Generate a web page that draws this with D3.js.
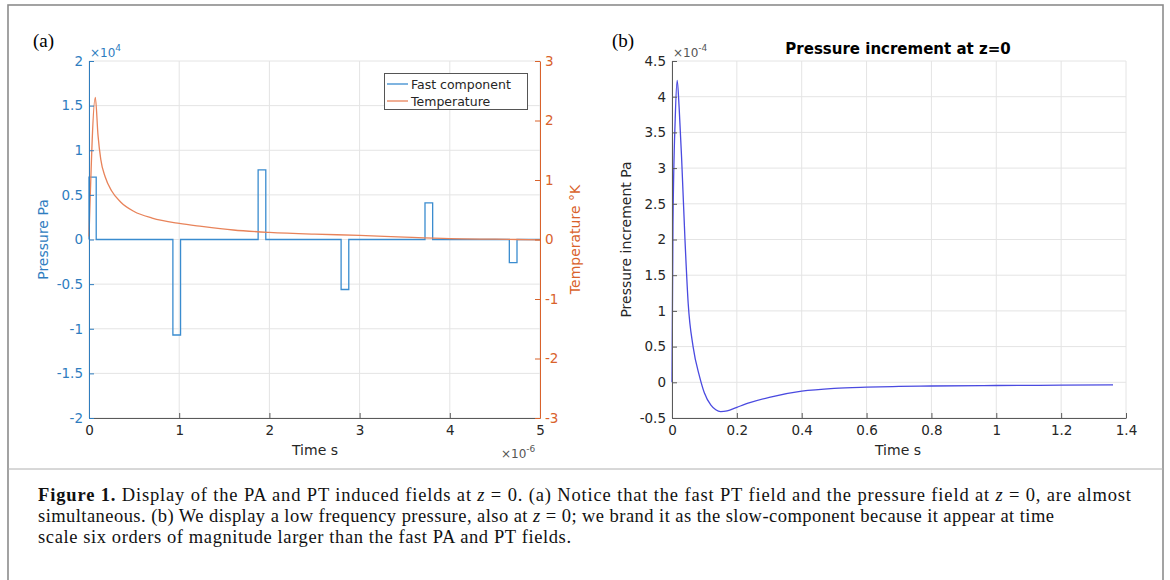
<!DOCTYPE html>
<meta charset="utf-8">
<script src="https://d3js.org/d3.v7.min.js"></script>
<style>
  body { margin: 0; background: #fff; }
  svg text { font-family: "DejaVu Sans", sans-serif; }
</style>
<div id="my_dataviz"></div>
<script>

// ---- panel (a): fast component, pressure in 1e4 Pa, time in 1e-6 s ----
const pulseStart = [0, 0.93, 1.875, 2.795, 3.725, 4.66];
const pulseEnd   = [0.08, 1.015, 1.96, 2.88, 3.81, 4.745];
const pulseValue = [0.70, -1.07, 0.78, -0.56, 0.41, -0.26];

// ---- panel (a): temperature, K ----
const tempTime  = [0, 0.07, 0.1, 0.13, 0.18, 0.25, 0.35, 0.5, 0.7, 1.0, 1.25, 1.6, 2.0, 2.5, 3.0, 3.5, 4.0, 4.5, 5.0];
const tempValue = [0.05, 2.39, 1.75, 1.35, 1.05, 0.82, 0.63, 0.47, 0.36, 0.27, 0.22, 0.16, 0.12, 0.09, 0.07, 0.04, 0.015, 0.005, -0.005];

// ---- panel (b): slow pressure increment, 1e-4 Pa, time in s ----
const slowTime  = [0, 0.003, 0.01, 0.016, 0.022, 0.03, 0.04, 0.05, 0.065, 0.085, 0.1, 0.12, 0.135, 0.15, 0.17, 0.2, 0.24, 0.3, 0.4, 0.5, 0.6, 0.7, 0.8, 1.0, 1.2, 1.36];
const slowValue = [0, 2.2, 3.7, 4.23, 3.85, 3.1, 2.0, 1.1, 0.5, 0.08, -0.15, -0.32, -0.385, -0.41, -0.40, -0.35, -0.285, -0.21, -0.125, -0.085, -0.068, -0.058, -0.052, -0.045, -0.04, -0.035];

// tick labels
const pressTicks = [-2, -1.5, -1, -0.5, 0, 0.5, 1, 1.5, 2];
const tempTicks  = [-3, -2, -1, 0, 1, 2, 3];
const timeTicksA = [0, 1, 2, 3, 4, 5];
const slowTicksY = [-0.5, 0, 0.5, 1, 1.5, 2, 2.5, 3, 3.5, 4, 4.5];
const slowTicksX = [0, 0.2, 0.4, 0.6, 0.8, 1, 1.2, 1.4];

const captionLines = [
    [["b", "Figure 1."], ["", " Display of the PA and PT induced fields at "], ["i", "z"], ["", " = 0. (a) Notice that the fast PT field and the pressure field at "], ["i", "z"], ["", " = 0, are almost"]],
    [["", "simultaneous. (b) We display a low frequency pressure, also at "], ["i", "z"], ["", " = 0; we brand it as the slow-component because it appear at time"]],
    [["", "scale six orders of magnitude larger than the fast PA and PT fields."]]
];
const captionWidths = [1093, 1016, 533];

const width = 1170;
const height = 580;

const blue = "#2f7dbf";
const blueLine = "#3a8ccf";
const orange = "#d9622b";
const orangeLine = "#e8835a";
const grid = "#e4e4e4";
const dark = "#262626";
const tickSize = 13.5;

const svg = d3.select("#my_dataviz")
    .append("svg")
    .attr("width", width)
    .attr("height", height)
    .attr("viewBox", [0, 0, width, height]);

// frame
svg.append("rect")
    .attr("x", 8).attr("y", 5)
    .attr("width", 1155).attr("height", 600)
    .attr("fill", "none").attr("stroke", "#8c8c8c").attr("stroke-width", 1.6);
svg.append("line")
    .attr("x1", 8).attr("x2", 1163).attr("y1", 469).attr("y2", 469)
    .attr("stroke", "#b0b0b0").attr("stroke-width", 1);

// ================= panel (a) =================
const xA = d3.scaleLinear().domain([0, 5]).range([89, 540]);
const yA = d3.scaleLinear().domain([-2, 2]).range([418, 61]);
const yT = d3.scaleLinear().domain([-3, 3]).range([418, 61]);

// grid
svg.append("g")
    .selectAll("line")
    .data(timeTicksA)
    .join("line")
    .attr("x1", d => xA(d)).attr("x2", d => xA(d))
    .attr("y1", yA(-2)).attr("y2", yA(2))
    .attr("stroke", grid);
svg.append("g")
    .selectAll("line")
    .data(pressTicks)
    .join("line")
    .attr("x1", xA(0)).attr("x2", xA(5))
    .attr("y1", d => yA(d)).attr("y2", d => yA(d))
    .attr("stroke", grid);

// fast component as a step line
let fastPts = [[0, 0]];
pulseStart.forEach(function (s, i) {
    fastPts.push([s, 0], [s, pulseValue[i]], [pulseEnd[i], pulseValue[i]], [pulseEnd[i], 0]);
});
fastPts.push([5, 0]);

svg.append("path")
    .datum(fastPts)
    .attr("fill", "none")
    .attr("stroke", blueLine)
    .attr("stroke-width", 1.3)
    .attr("d", d3.line().x(d => xA(d[0])).y(d => yA(d[1])));

// temperature
svg.append("path")
    .datum(tempTime.map((t, i) => [t, tempValue[i]]))
    .attr("fill", "none")
    .attr("stroke", orangeLine)
    .attr("stroke-width", 1.3)
    .attr("d", d3.line().curve(d3.curveMonotoneX).x(d => xA(d[0])).y(d => yT(d[1])));

// axes
const fmt = d => String(d);

function styleAxis(g, color, textColor) {
    g.select(".domain").attr("stroke", color);
    g.selectAll(".tick line").attr("stroke", color);
    g.selectAll("text").attr("fill", textColor).attr("font-size", tickSize).attr("font-family", "DejaVu Sans");
}

svg.append("g")
    .attr("transform", `translate(0,${yA(-2)})`)
    .call(d3.axisBottom(xA).tickValues(timeTicksA).tickFormat(fmt).tickSizeInner(-5).tickSizeOuter(0).tickPadding(7))
    .call(g => styleAxis(g, "#5a5a5a", dark));

svg.append("g")
    .attr("transform", `translate(${xA(0)},0)`)
    .call(d3.axisLeft(yA).tickValues(pressTicks).tickFormat(fmt).tickSizeInner(-5).tickSizeOuter(0).tickPadding(6))
    .call(g => styleAxis(g, blue, blue));

svg.append("g")
    .attr("transform", `translate(${xA(5)},0)`)
    .call(d3.axisRight(yT).tickValues(tempTicks).tickFormat(fmt).tickSizeInner(-5).tickSizeOuter(0).tickPadding(5))
    .call(g => styleAxis(g, orange, orange));

// exponent labels
const expA = svg.append("text").attr("x", 90).attr("y", 57).attr("font-size", 12).attr("fill", blue);
expA.append("tspan").text("\u00d710");
expA.append("tspan").attr("dy", -6).attr("font-size", 9).text("4");

const expT = svg.append("text").attr("x", 501).attr("y", 458).attr("font-size", 12).attr("fill", "#555");
expT.append("tspan").text("\u00d710");
expT.append("tspan").attr("dy", -6).attr("font-size", 9).text("-6");

// axis titles
svg.append("text")
    .attr("x", 315).attr("y", 455)
    .attr("text-anchor", "middle").attr("font-size", 14).attr("fill", dark)
    .text("Time s");
svg.append("text")
    .attr("transform", `translate(48,${yA(0)}) rotate(-90)`)
    .attr("text-anchor", "middle").attr("font-size", 14).attr("fill", blue)
    .text("Pressure Pa");
svg.append("text")
    .attr("transform", `translate(580,${yA(0)}) rotate(-90)`)
    .attr("text-anchor", "middle").attr("font-size", 14).attr("fill", orange)
    .text("Temperature \u00b0K");

// legend
const legend = svg.append("g");
legend.append("rect")
    .attr("x", 384.5).attr("y", 73.5).attr("width", 143).attr("height", 36)
    .attr("fill", "#fff").attr("stroke", "#555").attr("stroke-width", 1);
[["Fast component", blueLine, 84], ["Temperature", orangeLine, 101]].forEach(function (d) {
    legend.append("line")
        .attr("x1", 387).attr("x2", 408).attr("y1", d[2]).attr("y2", d[2])
        .attr("stroke", d[1]).attr("stroke-width", 1.3);
    legend.append("text")
        .attr("x", 411).attr("y", d[2] + 4.5)
        .attr("font-size", 12.5).attr("fill", dark)
        .text(d[0]);
});

// ================= panel (b) =================
const xB = d3.scaleLinear().domain([0, 1.4]).range([672, 1126]);
const yB = d3.scaleLinear().domain([-0.5, 4.5]).range([418, 61]);

svg.append("g")
    .selectAll("line")
    .data(slowTicksX)
    .join("line")
    .attr("x1", d => xB(d)).attr("x2", d => xB(d))
    .attr("y1", yB(-0.5)).attr("y2", yB(4.5))
    .attr("stroke", grid);
svg.append("g")
    .selectAll("line")
    .data(slowTicksY)
    .join("line")
    .attr("x1", xB(0)).attr("x2", xB(1.4))
    .attr("y1", d => yB(d)).attr("y2", d => yB(d))
    .attr("stroke", grid);

svg.append("path")
    .datum(slowTime.map((t, i) => [t, slowValue[i]]))
    .attr("fill", "none")
    .attr("stroke", "#4a4ae0")
    .attr("stroke-width", 1.3)
    .attr("d", d3.line().curve(d3.curveMonotoneX).x(d => xB(d[0])).y(d => yB(d[1])));

svg.append("g")
    .attr("transform", `translate(0,${yB(-0.5)})`)
    .call(d3.axisBottom(xB).tickValues(slowTicksX).tickFormat(fmt).tickSizeInner(-5).tickSizeOuter(0).tickPadding(7))
    .call(g => styleAxis(g, "#5a5a5a", dark));

svg.append("g")
    .attr("transform", `translate(${xB(0)},0)`)
    .call(d3.axisLeft(yB).tickValues(slowTicksY).tickFormat(fmt).tickSizeInner(-5).tickSizeOuter(0).tickPadding(6))
    .call(g => styleAxis(g, "#5a5a5a", dark));

const expB = svg.append("text").attr("x", 673).attr("y", 57).attr("font-size", 12).attr("fill", "#555");
expB.append("tspan").text("\u00d710");
expB.append("tspan").attr("dy", -6).attr("font-size", 9).text("-4");

svg.append("text")
    .attr("x", 898).attr("y", 54)
    .attr("text-anchor", "middle").attr("font-size", 15).attr("font-weight", "bold").attr("fill", "#000")
    .text("Pressure increment at z=0");
svg.append("text")
    .attr("x", 898).attr("y", 455)
    .attr("text-anchor", "middle").attr("font-size", 14).attr("fill", dark)
    .text("Time s");
svg.append("text")
    .attr("transform", `translate(631,${yB(2)}) rotate(-90)`)
    .attr("text-anchor", "middle").attr("font-size", 14).attr("fill", dark)
    .text("Pressure increment Pa");

// panel letters
svg.append("text").attr("x", 33).attr("y", 47)
    .style("font-family", "Liberation Serif")
    .attr("font-size", 19).attr("fill", "#000").text("(a)");
svg.append("text").attr("x", 612).attr("y", 47)
    .style("font-family", "Liberation Serif")
    .attr("font-size", 19).attr("fill", "#000").text("(b)");

// caption
captionLines.forEach(function (parts, i) {
    const t = svg.append("text")
        .attr("x", 38).attr("y", 501 + i * 21)
        .attr("textLength", captionWidths[i])
        .attr("lengthAdjust", "spacing")
        .style("font-family", "Liberation Serif")
        .attr("font-size", 18.5).attr("fill", "#111");
    parts.forEach(function (p) {
        const s = t.append("tspan").text(p[1]);
        if (p[0] === "b") s.attr("font-weight", "bold");
        if (p[0] === "i") s.attr("font-style", "italic");
    });
});

</script>
